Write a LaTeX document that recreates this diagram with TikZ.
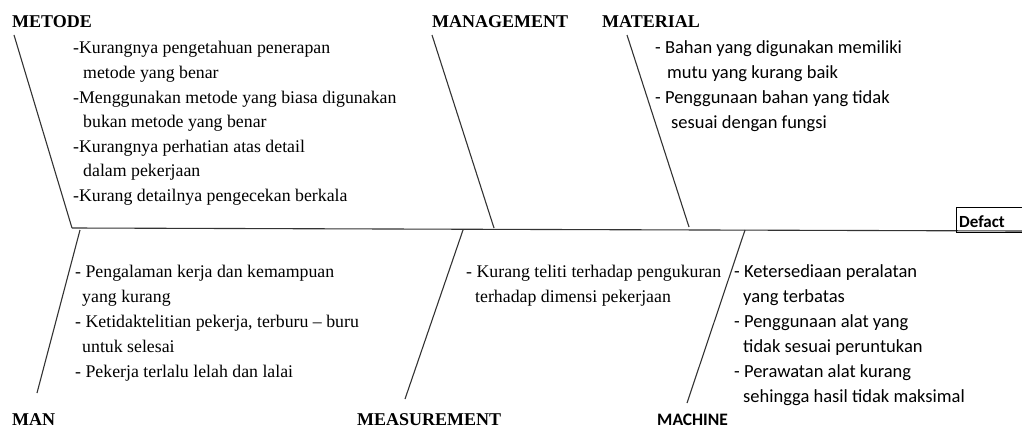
\documentclass[tikz,border=0pt]{standalone}
\usepackage{fontspec}
\setmainfont{Liberation Serif}
\newfontfamily\calib{Carlito}
\begin{document}
\begin{tikzpicture}[x=1pt,y=-1pt,
  bone/.style={draw=black!80,line width=1.1pt},
  cat/.style={font=\fontsize{18}{20}\selectfont\bfseries,inner sep=0pt,anchor=base west},
  catsans/.style={font=\calib\fontsize{17.5}{20}\selectfont\bfseries,inner sep=0pt,anchor=base west},
  txt/.style={font=\fontsize{17.8}{20}\selectfont,inner sep=0pt,anchor=base west},
  txtsans/.style={font=\calib\fontsize{18.5}{20}\selectfont,inner sep=0pt,anchor=base west}]
\useasboundingbox (0,0) rectangle (1022,428);
% coordinates of bones
\coordinate (s0) at (72,228);
\coordinate (s1) at (1022,231);
\coordinate (metT) at (14,35);   \coordinate (metB) at (72,228);
\coordinate (manT) at (432,35);  \coordinate (manB) at (494,228);
\coordinate (matT) at (627,35);  \coordinate (matB) at (689,227);
\coordinate (mnT) at (80,230);   \coordinate (mnB) at (37,393);
\coordinate (meT) at (463,230);  \coordinate (meB) at (405,399);
\coordinate (mcT) at (745,230);  \coordinate (mcB) at (687,403);
\draw[bone] (s0) -- (s1);
\draw[bone] (metT) -- (metB);
\draw[bone] (manT) -- (manB);
\draw[bone] (matT) -- (matB);
\draw[bone] (mnT) -- (mnB);
\draw[bone] (meT) -- (meB);
\draw[bone] (mcT) -- (mcB);
% effect box
\draw[black,line width=0.9pt] (956,207) rectangle (1028,232);
\node[catsans,font=\calib\fontsize{17}{20}\selectfont\bfseries] (def) at (959,227) {Defact};
% category labels
\node[cat] (lmet) at (12,28) {METODE};
\node[cat] (lman) at (432,28) {MANAGEMENT};
\node[cat] (lmat) at (602,28) {MATERIAL};
\node[cat] (lmn) at (12,425) {MAN};
\node[cat] (lme) at (357,425) {MEASUREMENT};
\node[catsans] (lmc) at (657,425) {MACHINE};
% METODE causes
\node[txt] (a1) at (73,54) {-Kurangnya pengetahuan penerapan};
\node[txt] (a2) at (83,78.5) {metode yang benar};
\node[txt] (a3) at (73,103) {-Menggunakan metode yang biasa digunakan};
\node[txt] (a4) at (83,127.5) {bukan metode yang benar};
\node[txt] (a5) at (73,152) {-Kurangnya perhatian atas detail};
\node[txt] (a6) at (83,176.5) {dalam pekerjaan};
\node[txt] (a7) at (73,201) {-Kurang detailnya pengecekan berkala};
% MATERIAL causes
\node[txtsans] (b1) at (655,53) {- Bahan yang digunakan memiliki};
\node[txtsans] (b2) at (667,78) {mutu yang kurang baik};
\node[txtsans] (b3) at (655,103) {- Penggunaan bahan yang tidak};
\node[txtsans] (b4) at (671,128) {sesuai dengan fungsi};
% MAN causes
\node[txt] (c1) at (75,277) {- Pengalaman kerja dan kemampuan};
\node[txt] (c2) at (82,302) {yang kurang};
\node[txt] (c3) at (75,327) {- Ketidaktelitian pekerja, terburu -- buru};
\node[txt] (c4) at (82,352) {untuk selesai};
\node[txt] (c5) at (75,377) {- Pekerja terlalu lelah dan lalai};
% MEASUREMENT causes
\node[txt] (d1) at (466,277) {- Kurang teliti terhadap pengukuran};
\node[txt] (d2) at (475,302) {terhadap dimensi pekerjaan};
% MACHINE causes
\node[txtsans] (e1) at (734,277) {- Ketersediaan peralatan};
\node[txtsans] (e2) at (743,302) {yang terbatas};
\node[txtsans] (e3) at (734,327) {- Penggunaan alat yang};
\node[txtsans] (e4) at (743,352) {tidak sesuai peruntukan};
\node[txtsans] (e5) at (734,377) {- Perawatan alat kurang};
\node[txtsans] (e6) at (743,402) {sehingga hasil tidak maksimal};
\end{tikzpicture}
\end{document}
